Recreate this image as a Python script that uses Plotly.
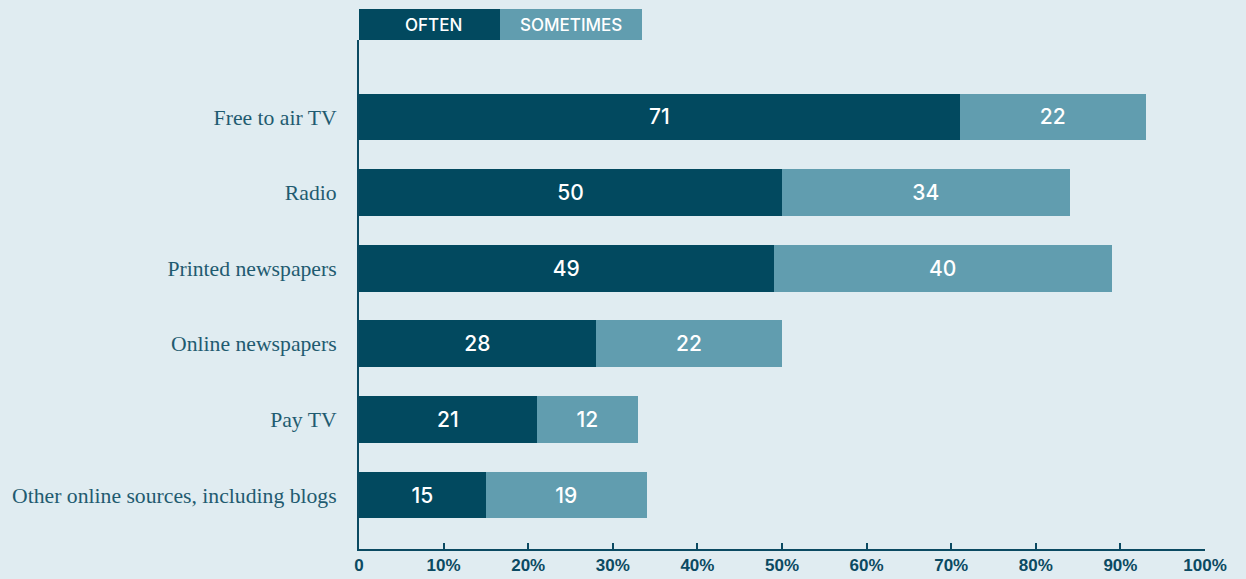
import plotly.graph_objects as go

# Media use shares (%), top to bottom
categories = [
    "Free to air TV",
    "Radio",
    "Printed newspapers",
    "Online newspapers",
    "Pay TV",
    "Other online sources, including blogs",
]
often = [71, 50, 49, 28, 21, 15]
sometimes = [22, 34, 40, 22, 12, 19]
tick_vals = [0, 10, 20, 30, 40, 50, 60, 70, 80, 90, 100]
tick_text = ["0", "10%", "20%", "30%", "40%", "50%", "60%", "70%", "80%", "90%", "100%"]

DARK = "#02495f"
LIGHT = "#619daf"
BG = "#e0ecf1"
INK = "#0b4a62"

fig = go.Figure()
for name, vals, col in [("OFTEN", often, DARK), ("SOMETIMES", sometimes, LIGHT)]:
    fig.add_trace(go.Bar(
        y=categories, x=vals, name=name, orientation="h",
        marker=dict(color=col, line=dict(width=0)),
        text=[str(v) for v in vals], textposition="inside",
        insidetextanchor="middle", constraintext="none",
        textfont=dict(family="Inter, Liberation Sans", size=21, color="white", weight=500),
        width=0.62, hoverinfo="skip",
    ))

fig.update_layout(
    barmode="stack",
    width=1246, height=579,
    margin=dict(l=359, r=41, t=40, b=30),
    paper_bgcolor=BG, plot_bgcolor=BG,
    showlegend=False,
    xaxis=dict(
        range=[0, 100], tickvals=tick_vals, ticktext=tick_text,
        showgrid=False, zeroline=False, automargin=False,
        showline=True, linecolor=INK, linewidth=2,
        ticks="inside", ticklen=6, tickwidth=2, tickcolor=INK,
        tickfont=dict(family="Liberation Sans", size=17, color=INK, weight="bold"),
    ),
    yaxis=dict(
        type="category", range=[5.714, -1.018],
        showgrid=False, zeroline=False, automargin=False,
        showline=True, linecolor=INK, linewidth=2,
        ticks="", ticklabelstandoff=16,
        tickfont=dict(family="Liberation Serif", size=21.7, color="#1f5b70"),
    ),
)

# Legend drawn as a header strip above the axis
x_split = 141 / 846
x_end = 283 / 846
y_top = 1 + 31 / 509
fig.add_shape(type="rect", xref="paper", yref="paper", x0=0, x1=x_split, y0=1, y1=y_top,
              fillcolor=DARK, line=dict(width=0))
fig.add_shape(type="rect", xref="paper", yref="paper", x0=x_split, x1=x_end, y0=1, y1=y_top,
              fillcolor=LIGHT, line=dict(width=0))
for label, cx in [("OFTEN", 74 / 846), ("SOMETIMES", 212 / 846)]:
    fig.add_annotation(xref="paper", yref="paper", x=cx, y=(1 + y_top) / 2,
                       text=label, showarrow=False, xanchor="center", yanchor="middle",
                       font=dict(family="Inter, Liberation Sans", size=17, color="white", weight=500))

fig.write_html("out.html")
